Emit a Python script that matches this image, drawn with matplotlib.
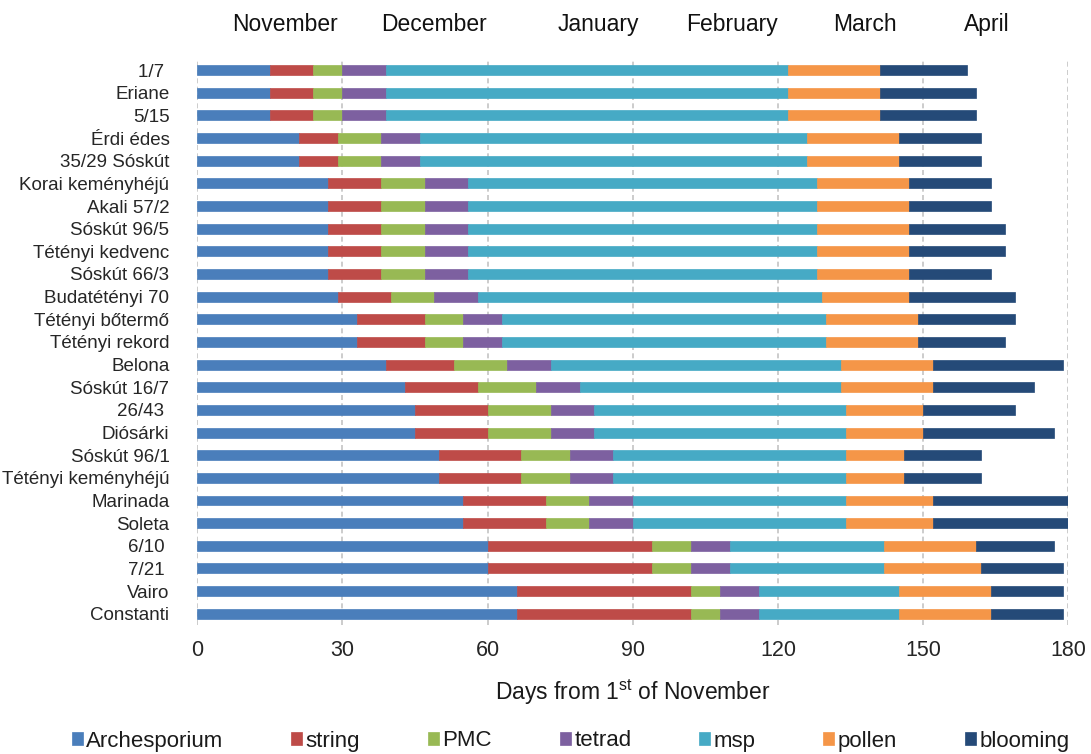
import matplotlib
matplotlib.use("Agg")
import matplotlib.pyplot as plt
import matplotlib.transforms as mtransforms
import numpy as np

plt.rcParams["font.family"] = ["Liberation Sans", "DejaVu Sans"]
plt.rcParams["mathtext.fontset"] = "custom"
plt.rcParams["mathtext.rm"] = "Liberation Sans"
plt.rcParams["mathtext.it"] = "Liberation Sans:italic"

# Cultivars, top to bottom
cultivars = [
    "1/7 ", "Eriane", "5/15", "Érdi édes", "35/29 Sóskút", "Korai keményhéjú",
    "Akali 57/2", "Sóskút 96/5", "Tétényi kedvenc", "Sóskút 66/3",
    "Budatétényi 70", "Tétényi bőtermő", "Tétényi rekord", "Belona",
    "Sóskút 16/7", "26/43 ", "Diósárki", "Sóskút 96/1", "Tétényi keményhéjú",
    "Marinada", "Soleta", "6/10 ", "7/21 ", "Vairo", "Constanti",
]

stages = ["Archesporium", "string", "PMC", "tetrad", "msp", "pollen", "blooming"]
stage_colors = ["#4a7ebb", "#be4b48", "#98b954", "#7d60a0", "#46aac5", "#f59648", "#254a78"]

# Duration (days) of each developmental stage per cultivar
archesporium = [15, 15, 15, 21, 21, 27, 27, 27, 27, 27, 29, 33, 33, 39, 43, 45, 45, 50, 50, 55, 55, 60, 60, 66, 66]
string_stage = [9, 9, 9, 8, 8, 11, 11, 11, 11, 11, 11, 14, 14, 14, 15, 15, 15, 17, 17, 17, 17, 34, 34, 36, 36]
pmc = [6, 6, 6, 9, 9, 9, 9, 9, 9, 9, 9, 8, 8, 11, 12, 13, 13, 10, 10, 9, 9, 8, 8, 6, 6]
tetrad = [9, 9, 9, 8, 8, 9, 9, 9, 9, 9, 9, 8, 8, 9, 9, 9, 9, 9, 9, 9, 9, 8, 8, 8, 8]
msp = [83, 83, 83, 80, 80, 72, 72, 72, 72, 72, 71, 67, 67, 60, 54, 52, 52, 48, 48, 44, 44, 32, 32, 29, 29]
pollen = [19, 19, 19, 19, 19, 19, 19, 19, 19, 19, 18, 19, 19, 19, 19, 16, 16, 12, 12, 18, 18, 19, 20, 19, 19]
blooming = [18, 20, 20, 17, 17, 17, 17, 20, 20, 17, 22, 20, 18, 27, 21, 19, 27, 16, 16, 28, 28, 16, 17, 15, 15]

series = [archesporium, string_stage, pmc, tetrad, msp, pollen, blooming]

months = ["November", "December", "January", "February", "March", "April"]
month_x = [18.1, 48.9, 82.8, 110.6, 137.9, 163.1]

x_ticks = [0, 30, 60, 90, 120, 150, 180]

fig = plt.figure(figsize=(10.91, 7.54), dpi=100)
ax = fig.add_axes([0.1808, 0.171, 0.7984, 0.751])

y = np.arange(len(cultivars))
left = np.zeros(len(cultivars))
for name, vals, col in zip(stages, series, stage_colors):
    vals = np.asarray(vals, dtype=float)
    ax.barh(y, vals, left=left, height=0.44, color=col, label=name,
            edgecolor=col, linewidth=0.5, zorder=3)
    left += vals

ax.set_ylim(len(cultivars) - 0.5, -0.5)
ax.set_xlim(0, 180)
ax.set_yticks(y)
ax.set_yticklabels(cultivars, fontsize=13.5, color="#262626")
ax.set_xticks(x_ticks)
ax.set_xticklabels([str(t) for t in x_ticks], fontsize=15.5, color="#262626")
ax.tick_params(axis="y", length=0, pad=20)
ax.tick_params(axis="x", length=0, pad=11)

for s in ax.spines.values():
    s.set_visible(False)
for t in x_ticks:
    ax.axvline(t, color="#c4c4c4", linewidth=1.2, linestyle=(0, (3, 2)), zorder=1)

ax.set_xlabel("Days from 1$^{\\rm st}$ of November", fontsize=16.5, color="#1a1a1a", labelpad=12)

trans = mtransforms.blended_transform_factory(ax.transData, fig.transFigure)
for m, mx in zip(months, month_x):
    ax.text(mx, 1 - 31 / 754, m, transform=trans, ha="center", va="baseline",
            fontsize=16.5, color="#111111")

fig.legend(loc="center", bbox_to_anchor=(0.523, 1 - 741 / 754), ncol=7, frameon=False,
           fontsize=16.0, handlelength=0.5, handleheight=0.5, handletextpad=0.15,
           columnspacing=3.05, borderaxespad=0, labelcolor="#1a1a1a")

fig.savefig("out.png", dpi=100)
